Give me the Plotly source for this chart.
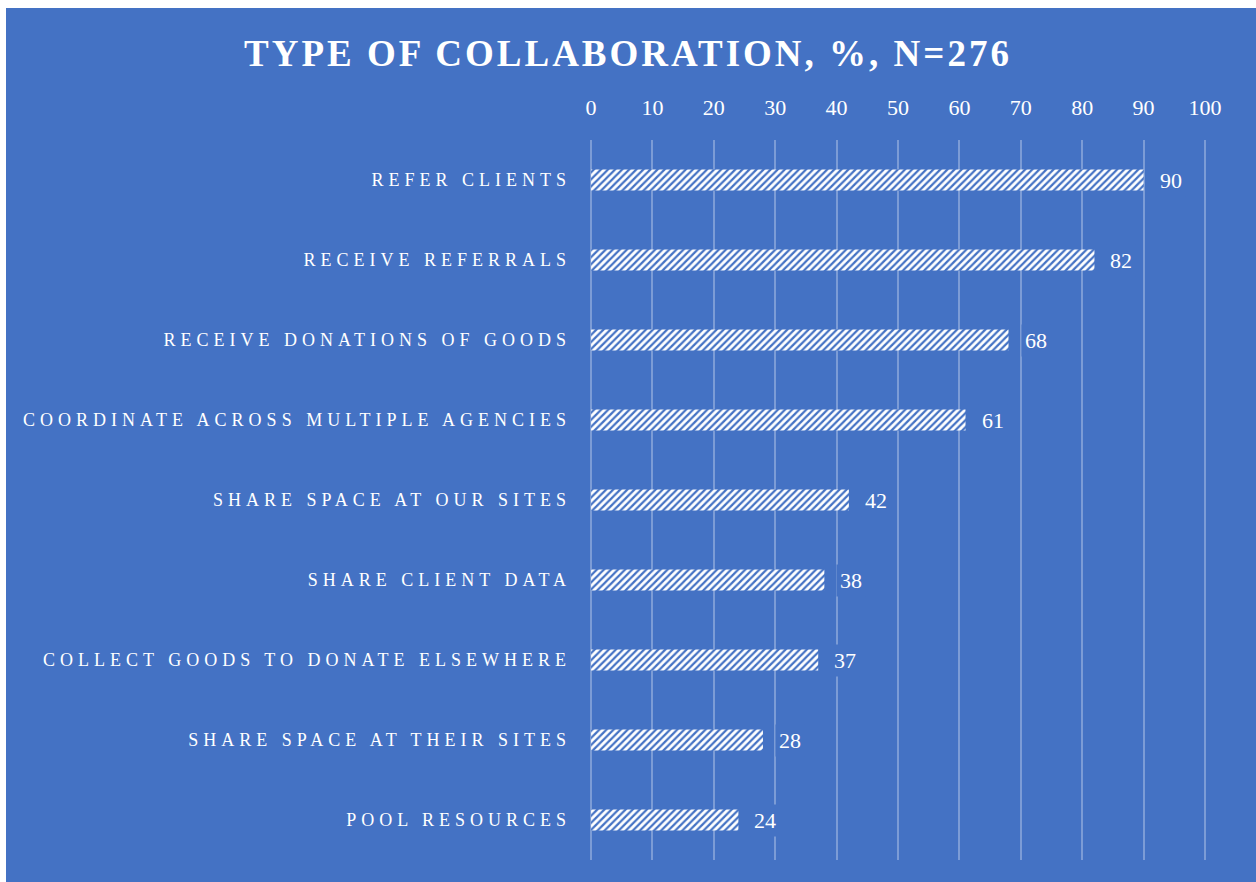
import plotly.graph_objects as go

categories = [
    "REFER CLIENTS",
    "RECEIVE REFERRALS",
    "RECEIVE DONATIONS OF GOODS",
    "COORDINATE ACROSS MULTIPLE AGENCIES",
    "SHARE SPACE AT OUR SITES",
    "SHARE CLIENT DATA",
    "COLLECT GOODS TO DONATE ELSEWHERE",
    "SHARE SPACE AT THEIR SITES",
    "POOL RESOURCES",
]
values = [90, 82, 68, 61, 42, 38, 37, 28, 24]
tick_vals = list(range(0, 101, 10))

BLUE = "#4472C4"
SERIF = "Liberation Serif, DejaVu Serif, serif"

fig = go.Figure()
fig.add_trace(go.Bar(
    y=categories,
    x=values,
    orientation="h",
    width=0.26,
    marker=dict(
        color="white",
        line=dict(width=0),
        pattern=dict(shape="/", fgcolor=BLUE, bgcolor="white", size=5,
                     solidity=0.45, fgopacity=1),
    ),
    hoverinfo="skip",
))

for c, v in zip(categories, values):
    fig.add_annotation(
        x=v, y=c, xref="x", yref="y", text=str(v), showarrow=False,
        xanchor="left", xshift=12, bgcolor=BLUE, borderpad=3,
        font=dict(family=SERIF, size=22, color="white"),
    )

L, R, T, B = 588, 48, 140, 22
PW = 1256 - L - R
PH = 882 - T - B

# blue background panel leaving a thin white strip at top/left
fig.add_shape(type="rect", xref="paper", yref="paper",
              x0=(6 - L) / PW, x1=1.2, y0=-0.2, y1=(882 - B - 8) / PH,
              fillcolor=BLUE, line=dict(width=0), layer="below")

fig.update_layout(
    width=1256, height=882,
    margin=dict(l=L, r=R, t=T, b=B),
    paper_bgcolor="white",
    plot_bgcolor="rgba(0,0,0,0)",
    showlegend=False,
    title=dict(
        text='<span style="letter-spacing:3px">TYPE OF COLLABORATION, %, N=276</span>',
        x=0.5, xref="container", xanchor="center",
        y=(882 - 53) / 882, yanchor="middle",
        font=dict(family=SERIF, size=37, color="white", weight="bold"),
    ),
    xaxis=dict(
        side="top", range=[-0.5, 100.5], tickvals=tick_vals,
        ticktext=[str(t) for t in tick_vals],
        showgrid=True, gridcolor="rgba(255,255,255,0.3)", gridwidth=1.5,
        zeroline=False, showline=False, ticks="",
        tickfont=dict(family=SERIF, size=22, color="white"),
        ticklabelstandoff=20, fixedrange=True,
    ),
    yaxis=dict(
        categoryorder="array", categoryarray=categories, autorange="reversed",
        tickvals=categories,
        ticktext=['<span style="letter-spacing:5px">' + c + '</span>' for c in categories],
        showgrid=False, zeroline=False, showline=False, ticks="",
        tickfont=dict(family=SERIF, size=18, color="white"),
        ticklabelstandoff=16,
    ),
)

fig.write_html("out.html")
